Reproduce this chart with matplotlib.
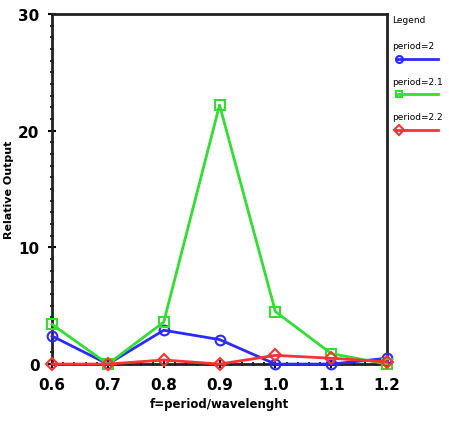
import numpy as np
import matplotlib.pyplot as plt
from matplotlib.lines import Line2D
from matplotlib.ticker import MultipleLocator

# data
x = [0.6, 0.7, 0.8, 0.9, 1.0, 1.1, 1.2]
period_2 = [2.4, 0.0, 2.9, 2.1, 0.0, 0.0, 0.5]
period_21 = [3.4, 0.0, 3.6, 22.2, 4.5, 0.9, 0.0]
period_22 = [0.0, 0.0, 0.35, 0.0, 0.75, 0.5, 0.2]
labels = ['period=2', 'period=2.1', 'period=2.2']
colors = ['#2b2bff', '#33dd33', '#ff3333']
markers = ['o', 's', 'D']

fig = plt.figure(figsize=(4.49, 4.27), dpi=100)
ax = fig.add_axes([0.116, 0.145, 0.746, 0.82])

series = [period_2, period_21, period_22]
for vals, c, m in zip(series, colors, markers):
    ax.plot(x, vals, color=c, marker=m, markersize=7 if m != 'D' else 6,
            markerfacecolor='none', markeredgewidth=1.5, linewidth=2,
            clip_on=False, zorder=3)

ax.set_xlim(0.6, 1.2)
ax.set_ylim(0, 30)
ax.set_xticks(x)
ax.set_xticklabels(['0.6', '0.7', '0.8', '0.9', '1.0', '1.1', '1.2'])
ax.set_yticks([0, 10, 20, 30])
ax.xaxis.set_minor_locator(MultipleLocator(0.02))
ax.yaxis.set_minor_locator(MultipleLocator(1))
ax.tick_params(which='major', direction='inout', length=6, width=1.5,
               labelsize=11, pad=6)
ax.tick_params(which='minor', direction='inout', length=3, width=1.2)
ax.tick_params(top=False, right=False, which='both')
for lab in ax.get_xticklabels() + ax.get_yticklabels():
    lab.set_fontweight('bold')
for sp in ax.spines.values():
    sp.set_linewidth(2)
    sp.set_color('#222222')

ax.set_xlabel('f=period/wavelenght', fontsize=8.5, fontweight='bold')
ax.set_ylabel('Relative Output', fontsize=8, fontweight='bold', labelpad=3)

# legend to the right of the axes
fig.text(0.873, 0.952, 'Legend', fontsize=6.5, va='center')
for i, (lab, c, m) in enumerate(zip(labels, colors, markers)):
    ty = 0.89 - i * 0.083
    fig.text(0.873, ty, lab, fontsize=6.5, va='center')
    ly = ty - 0.03
    fig.add_artist(Line2D([0.882, 0.975], [ly, ly], color=c, linewidth=2,
                          transform=fig.transFigure))
    fig.add_artist(Line2D([0.888], [ly], color=c, marker=m, markersize=5,
                          markerfacecolor='none', markeredgewidth=1.5,
                          transform=fig.transFigure))

fig.savefig('out.png', dpi=100)
